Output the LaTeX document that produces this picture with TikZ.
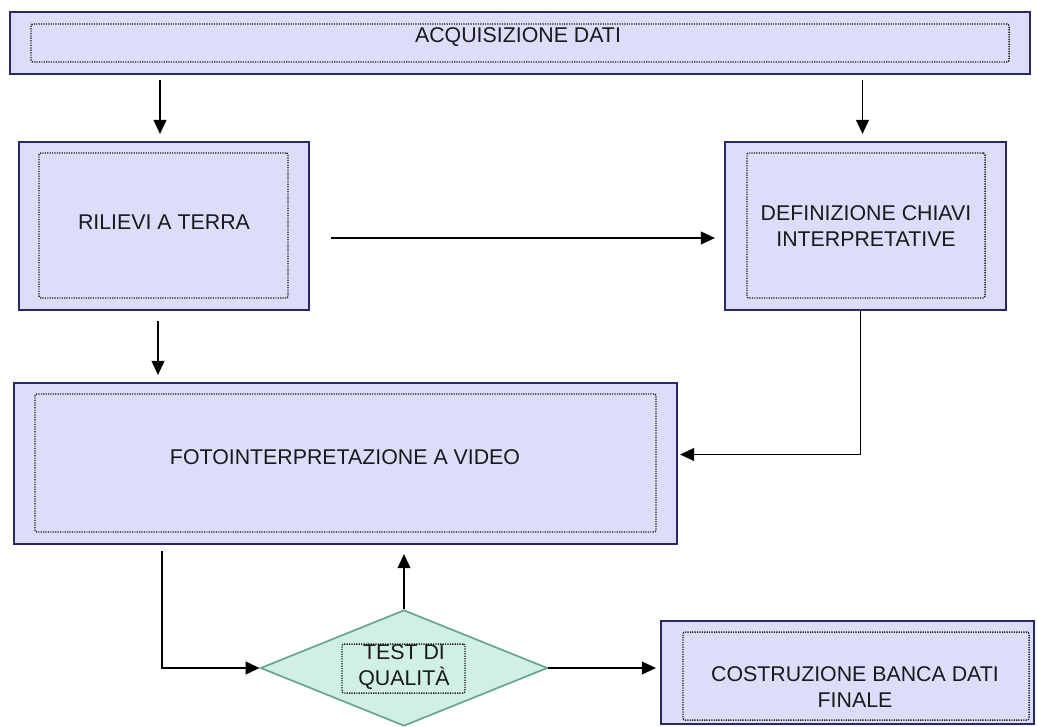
\documentclass[tikz,border=0pt]{standalone}
\usepackage{fontspec}
\setmainfont{Liberation Sans}
\usetikzlibrary{arrows.meta,shapes.geometric,fit,calc}
\definecolor{boxfill}{RGB}{221,221,250}
\definecolor{boxdraw}{RGB}{40,40,100}
\definecolor{diafill}{RGB}{207,240,226}
\definecolor{diadraw}{RGB}{105,165,145}
\definecolor{txt}{RGB}{25,25,30}
\begin{document}
\begin{tikzpicture}[x=0.75pt,y=-0.75pt,
  outer/.style={draw=boxdraw,fill=boxfill,line width=1.6pt,inner sep=0pt},
  innerbox/.style={draw=black!90,line width=1.1pt,dash pattern=on 0.9pt off 0.9pt,rounded corners=1.5pt,inner sep=0pt},
  lbl/.style={text=txt,font=\fontsize{16}{20}\selectfont,align=center,inner sep=0pt},
  arr/.style={draw=black,line width=1.4pt,-{Triangle[length=10.5pt,width=9.5pt]}},
  dia/.style={diamond,draw=diadraw,fill=diafill,line width=1.3pt,minimum width=215.25pt,minimum height=87pt,inner sep=0pt}
]
\fill[white] (0,0) rectangle (1037,726);
\useasboundingbox (0,0) rectangle (1037,726);

% top bar
\node[outer,fit={(10,12)(1030,74)}] (top) {};
\node[innerbox,fit={(31,24)(1009,62)}] (topin) {};
\node[lbl] (toplbl) at (518,37) {ACQUISIZIONE DATI};

% rilievi
\node[outer,fit={(19,142)(309,310)}] (ril) {};
\node[innerbox,fit={(39,153)(288,298)}] (rilin) {};
\node[lbl] (rillbl) at (164,222) {RILIEVI A TERRA};

% definizione
\node[outer,fit={(725,142)(1006,310)}] (def) {};
\node[innerbox,fit={(747,153)(985,298)}] (defin) {};
\node[lbl] (deflbl) at (866,226) {DEFINIZIONE CHIAVI\\INTERPRETATIVE};

% fotointerpretazione
\node[outer,fit={(14,383)(677,544)}] (foto) {};
\node[innerbox,fit={(35,394)(656,532)}] (fotoin) {};
\node[lbl] (fotolbl) at (345,457) {FOTOINTERPRETAZIONE A VIDEO};

% test
\node[dia] (dia) at (404,668) {};
\node[innerbox,fit={(342,644)(465,693)}] (diain) {};
\node[lbl] (dialbl) at (404,667) {TEST DI\\QUALITÀ};

% costruzione
\node[outer,fit={(661,621)(1034,724)}] (cost) {};
\node[innerbox,fit={(683,632)(1029,720)}] (costin) {};
\node[lbl] (costlbl) at (855,687) {COSTRUZIONE BANCA DATI\\FINALE};

% connectors
\draw[arr] ($(top.south -| ril.north)+(-4,5)$) -- ($(ril.north)+(-4,-7)$);
\draw[arr] ($(top.south -| def.north)+(-3,5)$) -- ($(def.north)+(-3,-7)$);
\draw[arr] ($(ril.south)+(-6,10)$) -- ($(ril.south |- foto.north)+(-6,-7)$);
\draw[arr] ($(ril.east)+(21,12)$) -- ($(def.west)+(-9,12)$);
\draw[arr] ($(def.south)+(-5,0)$) |- ($(foto.east)+(2,-9)$);
\draw[arr] ($(foto.south west)+(149,6)$) |- (dia.west);
\draw[arr] (dia.north) -- ($(dia.north |- foto.south)+(0,9)$);
\draw[arr] (dia.east) -- ($(dia.east -| cost.west)+(-4,0)$);
\end{tikzpicture}
\end{document}
